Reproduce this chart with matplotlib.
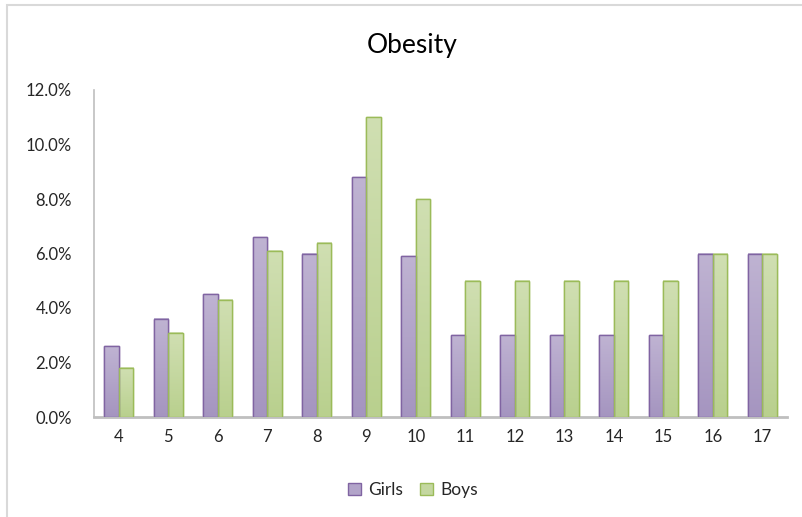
import numpy as np
import matplotlib
matplotlib.use("Agg")
import matplotlib.pyplot as plt
from matplotlib.colors import LinearSegmentedColormap
from matplotlib.ticker import FuncFormatter
from matplotlib.patches import Rectangle

plt.rcParams['font.family'] = ['Lato', 'DejaVu Sans']

ages = ['4', '5', '6', '7', '8', '9', '10', '11', '12', '13', '14', '15', '16', '17']
girls = [2.6, 3.6, 4.5, 6.6, 6.0, 8.8, 5.9, 3.0, 3.0, 3.0, 3.0, 3.0, 6.0, 6.0]
boys = [1.8, 3.1, 4.3, 6.1, 6.4, 11.0, 8.0, 5.0, 5.0, 5.0, 5.0, 5.0, 6.0, 6.0]

fig = plt.figure(figsize=(8.03, 5.17), dpi=100)
ax = fig.add_axes([94/803, 1-417/517, (787-94)/803, (417-90)/517])

x = np.arange(len(ages))
w = 0.29

girl_cmap = LinearSegmentedColormap.from_list('g', ['#a595c0', '#bfb3d2'])
boy_cmap = LinearSegmentedColormap.from_list('b', ['#b9d08e', '#d0dfb2'])
grad = np.linspace(0, 1, 100).reshape(-1, 1)

# bars with a plain face (used by the legend), gradient painted on top
b1 = ax.bar(x - w/2, girls, w, color='#b2a4c9', edgecolor='#8064a2', lw=1, zorder=2, label='Girls')
b2 = ax.bar(x + w/2, boys, w, color='#c4d7a0', edgecolor='#9bbb59', lw=1, zorder=2, label='Boys')
for bars, cm in ((b1, girl_cmap), (b2, boy_cmap)):
    for r in bars:
        x0, h, bw = r.get_x(), r.get_height(), r.get_width()
        ax.imshow(grad, extent=[x0, x0 + bw, 0, h], origin='lower', aspect='auto',
                  cmap=cm, zorder=3)
ax.bar(x - w/2, girls, w, fill=False, edgecolor='#8064a2', lw=1, zorder=4)
ax.bar(x + w/2, boys, w, fill=False, edgecolor='#9bbb59', lw=1, zorder=4)

ax.set_xlim(-0.5, len(ages) - 0.5)
ax.set_ylim(0, 12)
ax.set_yticks(np.arange(0, 12.1, 2))
ax.yaxis.set_major_formatter(FuncFormatter(lambda v, p: f"{v:.1f}%"))
ax.set_xticks(x)
ax.set_xticklabels(ages)
ax.tick_params(axis='both', length=0, labelsize=12, colors='#262626', pad=9)
ax.tick_params(axis='y', pad=16)

for s in ['top', 'right']:
    ax.spines[s].set_visible(False)
ax.spines['left'].set_color('#bfbfbf')
ax.spines['bottom'].set_color('#bfbfbf')
ax.spines['left'].set_linewidth(1.2)
ax.spines['bottom'].set_linewidth(2)

fig.text(412/803, 1-45/517, 'Obesity', ha='center', va='center', fontsize=19, color='#000000')

fig.legend(handles=[b1, b2], loc='center', bbox_to_anchor=(413/803, 1-490/517), ncol=2,
           frameon=False, fontsize=12.5, handlelength=0.75, handleheight=0.75,
           handletextpad=0.4, columnspacing=1.0, labelcolor='#262626')

fig.patches.append(Rectangle((7/803, -0.1), 1.0, 1 - 4.5/517 + 0.1, transform=fig.transFigure,
                             fill=False, edgecolor='#d9d9d9', lw=1.5, figure=fig))

fig.savefig('out.png', dpi=100)
